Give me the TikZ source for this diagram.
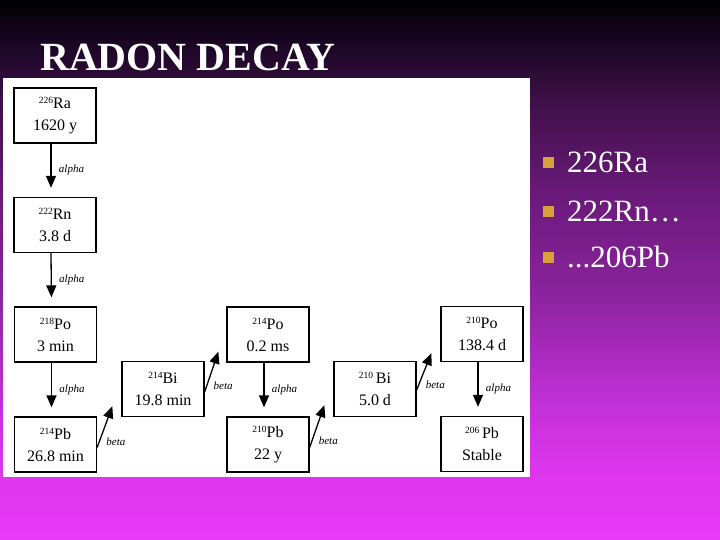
\documentclass[tikz,border=0pt]{standalone}
\usepackage{fontspec}
\setmainfont{Liberation Serif}
\usetikzlibrary{arrows.meta}
\definecolor{bgA}{HTML}{12041A}
\definecolor{bgB}{HTML}{3E1048}
\definecolor{bgC}{HTML}{6C1A7C}
\definecolor{bgD}{HTML}{8E24A0}
\definecolor{bgE}{HTML}{C030D4}
\definecolor{bgF}{HTML}{DC36EC}
\definecolor{bgG}{HTML}{E83AF8}
\definecolor{bulletcol}{HTML}{D9A040}
\pgfdeclareverticalshading{slidebg}{100bp}{color(0bp)=(bgG); color(25bp)=(bgG); color(31.5bp)=(bgF); color(38bp)=(bgE); color(47.2bp)=(bgD); color(56.5bp)=(bgC); color(65.7bp)=(bgB); color(72.2bp)=(bgA); color(75bp)=(black); color(100bp)=(black)}
\newcommand{\iso}[2]{{\raisebox{5pt}{\fontsize{9.5}{9.5}\selectfont #1}#2}}
\begin{document}
\begin{tikzpicture}[x=1pt,y=-1pt]
\tikzset{nucbox/.style={draw,fill=white,line width=1.3pt,minimum width=82pt,minimum height=55pt,
  inner sep=0pt,align=center,font=\fontsize{16}{22}\selectfont},
  decay/.style={line width=1.3pt,-{Triangle[length=12pt,width=10pt]},shorten >=9pt},
  decaylabel/.style={font=\fontsize{11}{11}\selectfont\itshape,anchor=west},
  bulletsq/.style={fill=bulletcol,minimum size=11pt,inner sep=0pt},
  bullettext/.style={text=white,anchor=base west,inner sep=0pt,font=\fontsize{31}{31}\selectfont}}
\useasboundingbox (0,0) rectangle (720,540);
\shade[shading=slidebg] (0,0) rectangle (720,540);
\node[text=white,anchor=base west,inner sep=0pt,font=\fontsize{40}{40}\selectfont\bfseries] (title) at (40,71) {RADON DECAY};
\fill[white] (3,78) rectangle (530,477);
\node[nucbox] (ra226) at (55,115.5) {\iso{226}{Ra}\\1620 y};
\node[nucbox] (rn222) at (55,225) {\iso{222}{Rn}\\3.8 d};
\node[nucbox] (po218) at (55.5,334.5) {\iso{218}{Po}\\3 min};
\node[nucbox] (pb214) at (55.5,444.5) {\iso{214}{Pb}\\26.8 min};
\node[nucbox] (bi214) at (163,389) {\iso{214}{Bi}\\19.8 min};
\node[nucbox] (po214) at (268,334.5) {\iso{214}{Po}\\0.2 ms};
\node[nucbox] (pb210) at (268,444.5) {\iso{210}{Pb}\\22 y};
\node[nucbox] (bi210) at (375,389) {\iso{210}{\,Bi}\\5.0 d};
\node[nucbox] (po210) at (482,334) {\iso{210}{Po}\\138.4 d};
\node[nucbox] (pb206) at (482,444) {\iso{206}{\,Pb}\\Stable};
\draw[decay] ([xshift=-4pt]ra226.south) -- ([xshift=-4pt]rn222.north) node[decaylabel,midway,xshift=4pt]{alpha};
\draw[decay] ([xshift=-4pt]rn222.south) -- ([xshift=-4pt]po218.north) node[decaylabel,midway,xshift=4pt]{alpha};
\draw[decay] ([xshift=-4pt]po218.south) -- ([xshift=-4pt]pb214.north) node[decaylabel,midway,xshift=4pt]{alpha};
\draw[decay] ([xshift=-4pt]po214.south) -- ([xshift=-4pt]pb210.north) node[decaylabel,midway,xshift=4pt]{alpha};
\draw[decay] ([xshift=-4pt]po210.south) -- ([xshift=-4pt]pb206.north) node[decaylabel,midway,xshift=4pt]{alpha};
\draw[decay,shorten >=0pt] ([yshift=-3pt]pb214.east) -- ([xshift=-9pt,yshift=11pt]bi214.south west) node[decaylabel,pos=0.15,xshift=3pt]{beta};
\draw[decay,shorten >=0pt] ([yshift=-3pt]bi214.east) -- ([xshift=-8pt,yshift=11pt]po214.south west) node[decaylabel,pos=0.15,xshift=3pt]{beta};
\draw[decay,shorten >=0pt] ([yshift=-3pt]pb210.east) -- ([xshift=-9pt,yshift=12pt]bi210.south west) node[decaylabel,pos=0.15,xshift=3pt]{beta};
\draw[decay,shorten >=0pt] ([yshift=-1pt]bi210.east) -- ([xshift=-9pt,yshift=9pt]po210.south west) node[decaylabel,pos=0.15,xshift=3pt]{beta};
\node[bulletsq] (b1) at (548,163) {};
\node[bulletsq] (b2) at (548,212) {};
\node[bulletsq] (b3) at (548,257) {};
\node[bullettext] (t1) at (567,173) {226Ra};
\node[bullettext] (t2) at (567,222) {222Rn…};
\node[bullettext] (t3) at (567,267) {...206Pb};
\end{tikzpicture}
\end{document}
